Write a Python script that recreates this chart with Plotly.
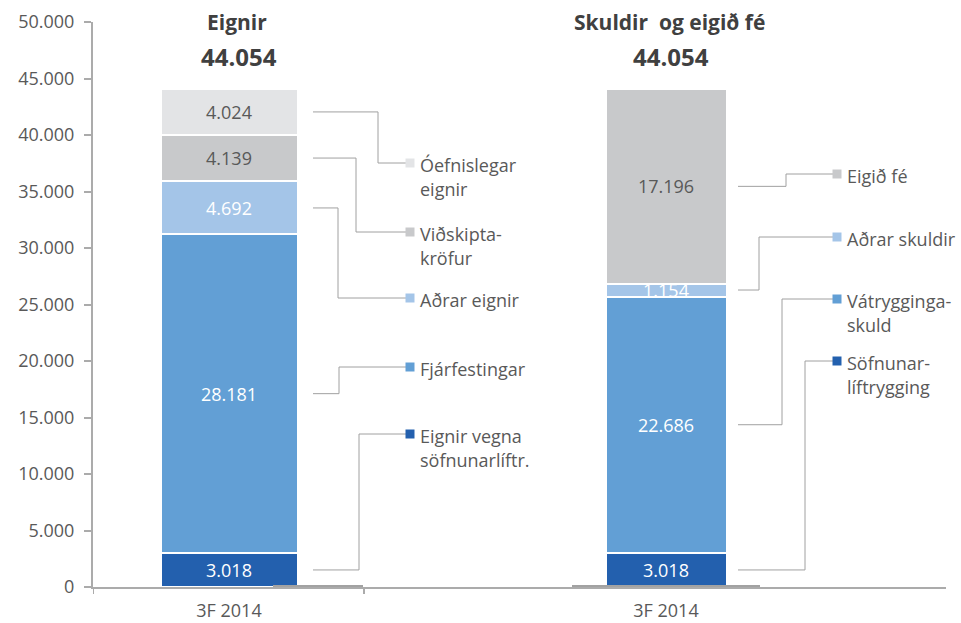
import plotly.graph_objects as go

# ---------------- data ----------------
category = "3F 2014"
asset_labels = ["Eignir vegna|söfnunarlíftr.", "Fjárfestingar", "Aðrar eignir",
                "Viðskipta-|kröfur", "Óefnislegar|eignir"]
asset_values = [3018, 28181, 4692, 4139, 4024]

liab_labels = ["Söfnunar-|líftrygging", "Vátrygginga-|skuld", "Aðrar skuldir", "Eigið fé"]
liab_values = [3018, 22686, 1154, 17196]

asset_title = "Eignir"
liab_title = "Skuldir  og eigið fé"

y_ticks = list(range(0, 50001, 5000))

# ---------------- style ----------------
asset_colors = ["#2360AE", "#629FD5", "#A4C5E8", "#C8C9CB", "#E3E4E6"]
liab_colors = ["#2360AE", "#629FD5", "#A4C5E8", "#C8C9CB"]
asset_text_colors = ["white", "white", "white", "#595959", "#595959"]
liab_text_colors = ["white", "white", "white", "#595959"]
FONT = "Open Sans"
TXT = "#595959"
AX = "#ABABAB"
LINE = "#A0A0A0"

W, H = 961, 623
ML, MR, MT, MB = 93, 15, 22, 36
PW, PH = W - ML - MR, H - MT - MB
YMAX = 50000
C0, UNIT = 229, 437          # pixel centre of first bar, pixels per category unit
X_RANGE = [(ML - C0) / UNIT, (W - MR - C0) / UNIT]


def X(px):
    return (px - C0) / UNIT


def Y(py):
    return (MT + PH - py) / PH * YMAX


def fmt(v):
    return f"{v:,}".replace(",", ".")


fig = go.Figure()

groups = [
    dict(x=0, values=asset_values, labels=asset_labels, colors=asset_colors,
         tcolors=asset_text_colors, width=137 / UNIT,
         line_start=313, elbows=[359, 339, 338, 356, 378],
         leg_y=[434, 367, 298, 232, 163], sq_x=410, txt_x=418,
         title=asset_title, title_x=237),
    dict(x=1, values=liab_values, labels=liab_labels, colors=liab_colors,
         tcolors=liab_text_colors, width=121 / UNIT,
         line_start=738, elbows=[805, 782, 759, 786],
         leg_y=[361, 299, 237, 174], sq_x=837, txt_x=845,
         title=liab_title, title_x=669),
]

shapes = []
annotations = []

for g in groups:
    base = 0
    for i, (v, lab, c, tc) in enumerate(zip(g["values"], g["labels"], g["colors"], g["tcolors"])):
        fig.add_trace(go.Bar(
            x=[g["x"]], y=[v], width=[g["width"]],
            marker=dict(color=c, line=dict(color="white", width=2)),
            text=[fmt(v)], textposition="inside", insidetextanchor="middle",
            textangle=0, insidetextfont=dict(family=FONT, size=18, color=tc),
            name=lab.replace("|", " "), showlegend=False, hoverinfo="skip",
        ))
        mid = base + v / 2
        base += v
        ly = Y(g["leg_y"][i])
        ex = X(g["elbows"][i])
        shapes.append(dict(
            type="path", xref="x", yref="y",
            path=f"M {X(g['line_start'])},{mid} H {ex} V {ly} H {X(g['sq_x'] - 4)}",
            line=dict(color=LINE, width=1)))
        shapes.append(dict(
            type="rect", xref="x", yref="y", xsizemode="pixel", ysizemode="pixel",
            xanchor=X(g["sq_x"]), yanchor=ly, x0=-4.5, x1=4.5, y0=-4.5, y1=4.5,
            fillcolor=c, line=dict(width=0)))
        for k, part in enumerate(lab.split("|")):
            annotations.append(dict(
                x=X(g["txt_x"]), y=Y(g["leg_y"][i] + 2 + 24 * k), xref="x", yref="y",
                text=part, showarrow=False, xanchor="left", yanchor="middle",
                font=dict(family=FONT, size=18, color=TXT)))
    total = sum(g["values"])
    annotations.append(dict(
        x=X(g["title_x"]), y=Y(22), xref="x", yref="y", text=f"<b>{g['title']}</b>",
        showarrow=False, xanchor="center", yanchor="middle",
        font=dict(family=FONT, size=21, color="#404040")))
    annotations.append(dict(
        x=X(g["title_x"] + 2), y=Y(56), xref="x", yref="y", text=f"<b>{fmt(total)}</b>",
        showarrow=False, xanchor="center", yanchor="middle",
        font=dict(family=FONT, size=24, color="#404040")))

# x-axis tick marks at category boundary
for px in [93, 364]:
    shapes.append(dict(type="line", xref="x", yref="paper", x0=X(px), x1=X(px),
                       y0=0, y1=-7 / PH, line=dict(color=AX, width=2)))
# darker baseline segments under bars
for a, b in [(273, 363), (572, 760)]:
    shapes.append(dict(type="line", xref="x", yref="y", x0=X(a), x1=X(b),
                       y0=Y(586), y1=Y(586), line=dict(color="#A2A2A2", width=2)))

fig.update_layout(
    barmode="stack",
    width=W, height=H,
    margin=dict(l=ML, r=MR, t=MT, b=MB, pad=0, autoexpand=False),
    paper_bgcolor="white", plot_bgcolor="white",
    separators=",.",
    uniformtext=dict(minsize=18, mode="show"),
    shapes=shapes, annotations=annotations,
    font=dict(family=FONT, color=TXT, size=18),
)
fig.update_xaxes(
    range=X_RANGE, tickvals=[0, 1], ticktext=[category, category],
    showline=True, linecolor=AX, linewidth=2, showgrid=False, zeroline=False,
    ticks="outside", ticklen=6, tickcolor="rgba(0,0,0,0)", automargin=False,
    tickfont=dict(family=FONT, size=18, color=TXT),
)
fig.update_yaxes(
    range=[0, YMAX], tickvals=y_ticks, ticktext=[fmt(v) for v in y_ticks],
    showline=True, linecolor=AX, linewidth=2, showgrid=False, zeroline=False,
    ticks="outside", ticklen=7, tickcolor=AX, tickwidth=2, automargin=False,
    tickfont=dict(family=FONT, size=18, color=TXT), ticklabelstandoff=6,
)

fig.write_html("out.html", config={"displayModeBar": False},
               post_script="document.body.style.margin='0';document.body.style.overflow='hidden';")
